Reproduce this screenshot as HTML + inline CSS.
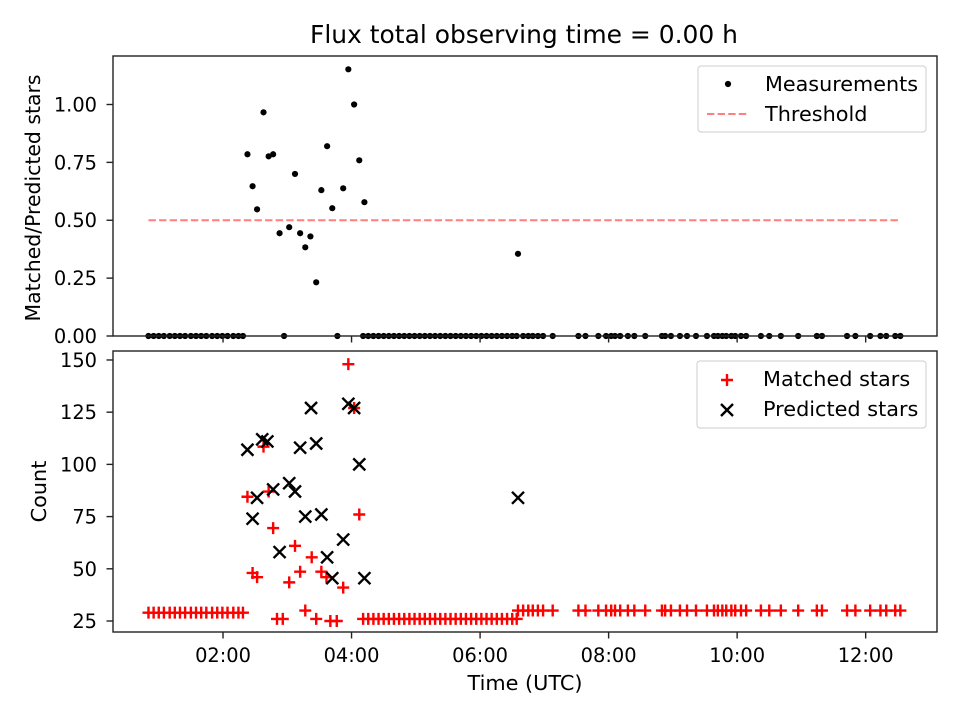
<!DOCTYPE html>
<html><head><meta charset="utf-8"><style>
body{margin:0;background:#fff;}
svg{display:block;font-family:"DejaVu Sans","Liberation Sans",sans-serif;}
</style></head><body>
<svg id="chart" width="960" height="720" viewBox="0 0 960 720"></svg>
<script>
// ---------- data ----------
const xTickLabels = ["02:00","04:00","06:00","08:00","10:00","12:00"];
const xTickHours = [2,4,6,8,10,12];
const topTicks = [0,0.25,0.5,0.75,1.0];
const topTickLabels = ["0.00","0.25","0.50","0.75","1.00"];
const botTicks = [25,50,75,100,125,150];
const threshold = 0.5;
const thresholdStart = 0.84, thresholdEnd = 12.54;
const ratioTimes = [2.38,2.46,2.53,2.63,2.71,2.78,2.88,3.03,3.12,3.20,3.28,3.36,3.45,3.53,3.62,3.70,3.87,3.95,4.04,4.12,4.20,6.59];
const ratioValues = [0.785,0.647,0.547,0.966,0.776,0.785,0.444,0.47,0.70,0.444,0.383,0.43,0.232,0.63,0.82,0.552,0.638,1.152,1.0,0.759,0.578,0.355];
const lowTimesA = [0.84,0.92,1.00,1.08,1.17,1.25,1.33,1.41,1.50,1.58,1.66,1.74,1.83,1.91,1.99,2.07,2.16,2.24,2.31];
const lowTimesB = [4.18,4.26,4.34,4.42,4.50,4.58,4.66,4.74,4.82,4.90,4.98,5.06,5.14,5.22,5.30,5.38,5.46,5.54,5.62,5.70,5.78,5.86,5.94,6.02,6.10,6.18,6.26,6.34,6.42,6.50,6.57];
const lowTimesC = [6.59,6.67,6.75,6.82,6.90,6.98,7.13,7.53,7.64,7.84,7.96,8.04,8.10,8.18,8.30,8.40,8.57,8.83,8.88,8.97,9.11,9.22,9.36,9.53,9.64,9.70,9.77,9.83,9.91,9.97,10.06,10.14,10.37,10.50,10.68,10.95,11.24,11.32,11.71,11.84,12.07,12.23,12.32,12.46,12.54];
const zeroExtraTimes = [2.95,3.78];
const matchedA = 29, matchedB = 26, matchedC = 30;
const matchedTimes = [2.38,2.46,2.53,2.63,2.71,2.78,2.84,2.93,3.03,3.12,3.20,3.28,3.38,3.45,3.53,3.61,3.67,3.77,3.87,3.95,4.04,4.12];
const matchedValues = [84.5,48,46,108.5,87,69.5,26,26,43.5,61,48.6,30,55.5,26,48.6,46,25,25,41,148,127,76];
const predictedTimes = [2.38,2.46,2.53,2.61,2.69,2.78,2.88,3.03,3.12,3.20,3.28,3.37,3.45,3.53,3.62,3.70,3.87,3.95,4.04,4.12,4.20,6.59];
const predictedValues = [107,74,84,112,111,88,58,91,87,108,75,127,110,76,55.5,45.5,64,129,127,100,45.5,84];

// ---------- axes ----------
const L=113,R=937;
const xMin=0.288,xMax=13.11;
const X=h=>L+(h-xMin)/(xMax-xMin)*(R-L);
const T1=56,B1=336,tMin=0,tMax=1.2095;
const Y1=v=>B1-(v-tMin)/(tMax-tMin)*(B1-T1);
const T2=351,B2=632,bMin=19.73,bMax=154.3;
const Y2=v=>B2-(v-bMin)/(bMax-bMin)*(B2-T2);
const LBL=20.8, TK=19.4, TL=6.5, DOT=3.1, MS=6, MW=2.4;

const svg=document.getElementById('chart');
const NS='http://www.w3.org/2000/svg';
function el(tag,attrs,parent){const e=document.createElementNS(NS,tag);for(const k in attrs)e.setAttribute(k,attrs[k]);(parent||svg).appendChild(e);return e;}
function txt(s,attrs,parent){const e=el('text',attrs,parent);e.textContent=s;return e;}

const title=txt("Flux total observing time = 0.00 h",{x:524,y:43,'font-size':25,'text-anchor':'middle',fill:'#000',textLength:428,lengthAdjust:'spacingAndGlyphs'});



// ---- top panel ----
const gTop=el('g',{});


const th=el('line',{x1:X(thresholdStart),x2:X(thresholdEnd),y1:Y1(threshold),y2:Y1(threshold),stroke:'#ff7f7f','stroke-width':2,'stroke-dasharray':'7.4,3.2'},gTop);


const gMeas=el('g',{fill:'#000'},gTop);


const zeroTimes=lowTimesA.concat(zeroExtraTimes,lowTimesB,lowTimesC.slice(1));
zeroTimes.forEach(t=>{const c=el('circle',{cx:X(t),cy:Y1(0),r:DOT},gMeas);

});
ratioTimes.forEach((t,i)=>{const c=el('circle',{cx:X(t),cy:Y1(ratioValues[i]),r:DOT},gMeas);

});
el('rect',{x:L,y:T1,width:R-L,height:B1-T1,fill:'none',stroke:'#222','stroke-width':1.4},gTop);
topTicks.forEach((v,i)=>{const y=Y1(v);el('line',{x1:L-TL,x2:L,y1:y,y2:y,stroke:'#222','stroke-width':1.4},gTop);
const t=txt(topTickLabels[i],{x:L-16,y:y+7,'font-size':TK,'text-anchor':'end'},gTop);

});
xTickHours.forEach(h=>el('line',{x1:X(h),x2:X(h),y1:B1,y2:B1+TL,stroke:'#222','stroke-width':1.4},gTop));
const yl1=txt("Matched/Predicted stars",{x:0,y:0,'font-size':LBL,'text-anchor':'middle',textLength:247,lengthAdjust:'spacingAndGlyphs',transform:`translate(40,${(T1+B1)/2+2}) rotate(-90)`},gTop);


const lg1=el('g',{},gTop);


el('rect',{x:698,y:66,width:228,height:66,rx:3,fill:'#fff',stroke:'#ccc'},lg1);
el('circle',{cx:728,cy:84,r:DOT,fill:'#000'},lg1);
const le1=txt("Measurements",{x:765,y:91,'font-size':LBL,textLength:153,lengthAdjust:'spacingAndGlyphs'},lg1);


el('line',{x1:707,x2:749,y1:114,y2:114,stroke:'#ff7f7f','stroke-width':2,'stroke-dasharray':'7.4,3.2'},lg1);
const le2=txt("Threshold",{x:765,y:121,'font-size':LBL},lg1);



// ---- bottom panel ----
const gBot=el('g',{});


function plus(x,y,p){el('path',{d:`M${x-MS},${y}H${x+MS}M${x},${y-MS}V${y+MS}`,stroke:'#f00','stroke-width':MW},p);}
function cross(x,y,p){el('path',{d:`M${x-MS},${y-MS}L${x+MS},${y+MS}M${x-MS},${y+MS}L${x+MS},${y-MS}`,stroke:'#000','stroke-width':MW},p);}
const gM=el('g',{},gBot);


lowTimesA.forEach(t=>plus(X(t),Y2(matchedA),gM));
lowTimesB.forEach(t=>plus(X(t),Y2(matchedB),gM));
lowTimesC.forEach(t=>plus(X(t),Y2(matchedC),gM));
matchedTimes.forEach((t,i)=>plus(X(t),Y2(matchedValues[i]),gM));
const gP=el('g',{},gBot);


predictedTimes.forEach((t,i)=>cross(X(t),Y2(predictedValues[i]),gP));
el('rect',{x:L,y:T2,width:R-L,height:B2-T2,fill:'none',stroke:'#222','stroke-width':1.4},gBot);
botTicks.forEach(v=>{const y=Y2(v);el('line',{x1:L-TL,x2:L,y1:y,y2:y,stroke:'#222','stroke-width':1.4},gBot);
const t=txt(String(v),{x:L-16,y:y+7,'font-size':TK,'text-anchor':'end'},gBot);

});
xTickHours.forEach((h,i)=>{el('line',{x1:X(h),x2:X(h),y1:B2,y2:B2+TL,stroke:'#222','stroke-width':1.4},gBot);
const t=txt(xTickLabels[i],{x:X(h),y:B2+30,'font-size':TK,'text-anchor':'middle'},gBot);

});
const xl=txt("Time (UTC)",{x:525,y:690,'font-size':LBL,'text-anchor':'middle',textLength:115,lengthAdjust:'spacingAndGlyphs'},gBot);


const yl2=txt("Count",{x:0,y:0,'font-size':LBL,'text-anchor':'middle',transform:`translate(46,${(T2+B2)/2}) rotate(-90)`},gBot);


const lg2=el('g',{},gBot);


el('rect',{x:697,y:361,width:229,height:67,rx:3,fill:'#fff',stroke:'#ccc'},lg2);
plus(727,380,lg2);
const le3=txt("Matched stars",{x:763,y:386,'font-size':LBL},lg2);


cross(727,410,lg2);
const le4=txt("Predicted stars",{x:763,y:416,'font-size':LBL},lg2);


</script>
</body></html>
